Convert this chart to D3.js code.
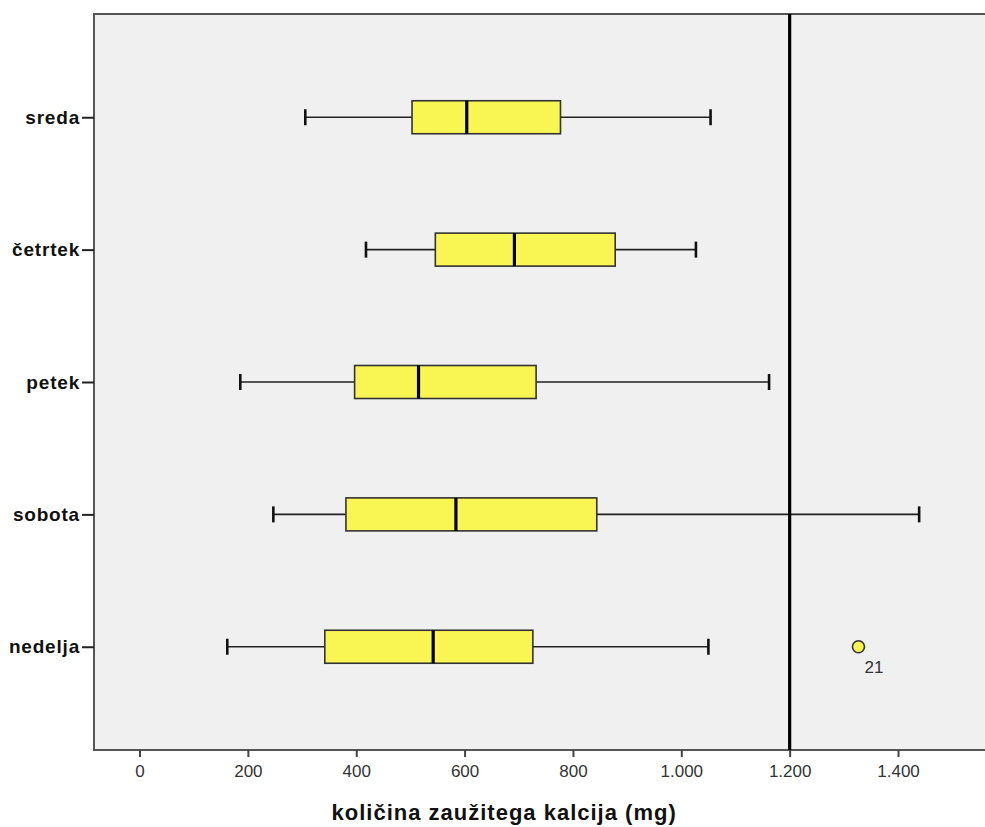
<!DOCTYPE html>
<html>
<head>
<meta charset="utf-8">
<script src="https://cdn.jsdelivr.net/npm/d3@7"></script>
<style>
  html, body { margin: 0; padding: 0; background: #ffffff; }
  svg { display: block; font-family: Arial, "Liberation Sans", sans-serif; }
</style>
</head>
<body>
<svg id="chart" width="985" height="827"></svg>
<script>
// Daily calcium intake (mg) — box plot summary per day
const days      = ["sreda", "četrtek", "petek", "sobota", "nedelja"];
const minVals   = [306, 418, 186, 247, 162];
const q1Vals    = [503, 546, 397, 381, 342];
const medVals   = [604, 692, 515, 584, 542];
const q3Vals    = [777, 878, 732, 844, 726];
const maxVals   = [1054, 1027, 1162, 1439, 1050];
const outlierDays   = ["nedelja"];
const outlierValues = [1327];
const outlierIds    = ["21"];
const xTickValues   = [0, 200, 400, 600, 800, 1000, 1200, 1400];
const referenceValue = 1200;
const xTitle = "količina zaužitega kalcija (mg)";

const svg = d3.select("#chart");
const plot = { left: 94, right: 995, top: 14, bottom: 750 };

const x = d3.scaleLinear().domain([-84, 1579]).range([plot.left, plot.right]);
const y = d3.scalePoint().domain(days).range([plot.top, plot.bottom]).padding(0.78);

const fmt = d3.formatLocale({ decimal: ",", thousands: ".", grouping: [3], currency: ["", ""] }).format(",d");

// plot background + frame
svg.append("rect")
  .attr("x", plot.left).attr("y", plot.top)
  .attr("width", plot.right - plot.left).attr("height", plot.bottom - plot.top)
  .attr("fill", "#f0f0f0")
  .attr("stroke", "#555").attr("stroke-width", 2);

// x axis
const xAxis = svg.append("g")
  .attr("transform", `translate(0,${plot.bottom})`)
  .call(d3.axisBottom(x).tickValues(xTickValues).tickFormat(fmt).tickSize(7).tickPadding(8));
xAxis.select(".domain").remove();
xAxis.selectAll(".tick line").attr("stroke", "#444").attr("stroke-width", 2);
xAxis.selectAll(".tick text")
  .attr("fill", "#333").attr("font-size", 17).attr("font-family", "Arial, 'Liberation Sans', sans-serif");

// y axis
const yAxis = svg.append("g")
  .attr("transform", `translate(${plot.left},0)`)
  .call(d3.axisLeft(y).tickSize(12).tickPadding(2));
yAxis.select(".domain").remove();
yAxis.selectAll(".tick line").attr("stroke", "#222").attr("stroke-width", 2);
yAxis.selectAll(".tick text")
  .attr("fill", "#111").attr("font-size", 19).attr("font-weight", "bold")
  .attr("letter-spacing", 0.8)
  .attr("font-family", "Arial, 'Liberation Sans', sans-serif");

// axis title
svg.append("text")
  .attr("x", x(673)).attr("y", 820)
  .attr("text-anchor", "middle")
  .attr("font-size", 22).attr("font-weight", "bold").attr("fill", "#111")
  .attr("letter-spacing", 1)
  .text(xTitle);

// boxes
const boxH = 33, capH = 16;
const rows = days.map((d, i) => ({
  day: d, min: minVals[i], q1: q1Vals[i], med: medVals[i], q3: q3Vals[i], max: maxVals[i]
}));

const g = svg.append("g");
rows.forEach(r => {
  const cy = y(r.day);
  // whiskers
  g.append("line").attr("x1", x(r.min)).attr("x2", x(r.q1)).attr("y1", cy).attr("y2", cy)
    .attr("stroke", "#222").attr("stroke-width", 1.6);
  g.append("line").attr("x1", x(r.q3)).attr("x2", x(r.max)).attr("y1", cy).attr("y2", cy)
    .attr("stroke", "#222").attr("stroke-width", 1.6);
  // caps
  [r.min, r.max].forEach(v => {
    g.append("line").attr("x1", x(v)).attr("x2", x(v))
      .attr("y1", cy - capH / 2).attr("y2", cy + capH / 2)
      .attr("stroke", "#111").attr("stroke-width", 2.6);
  });
  // box
  g.append("rect")
    .attr("x", x(r.q1)).attr("y", cy - boxH / 2)
    .attr("width", x(r.q3) - x(r.q1)).attr("height", boxH)
    .attr("fill", "#f9f552").attr("stroke", "#333").attr("stroke-width", 1.6);
  // median
  g.append("line").attr("x1", x(r.med)).attr("x2", x(r.med))
    .attr("y1", cy - boxH / 2).attr("y2", cy + boxH / 2)
    .attr("stroke", "#000").attr("stroke-width", 3.2);
});

// reference line
svg.append("line")
  .attr("x1", x(referenceValue)).attr("x2", x(referenceValue))
  .attr("y1", plot.top).attr("y2", plot.bottom)
  .attr("stroke", "#000").attr("stroke-width", 3.2);

// outliers
outlierDays.forEach((d, i) => {
  const cx = x(outlierValues[i]), cy = y(d);
  svg.append("circle").attr("cx", cx).attr("cy", cy).attr("r", 6)
    .attr("fill", "#f9f552").attr("stroke", "#333").attr("stroke-width", 1.6);
  svg.append("text").attr("x", cx + 6).attr("y", cy + 26)
    .attr("font-size", 17).attr("fill", "#333")
    .text(outlierIds[i]);
});
</script>
</body>
</html>
